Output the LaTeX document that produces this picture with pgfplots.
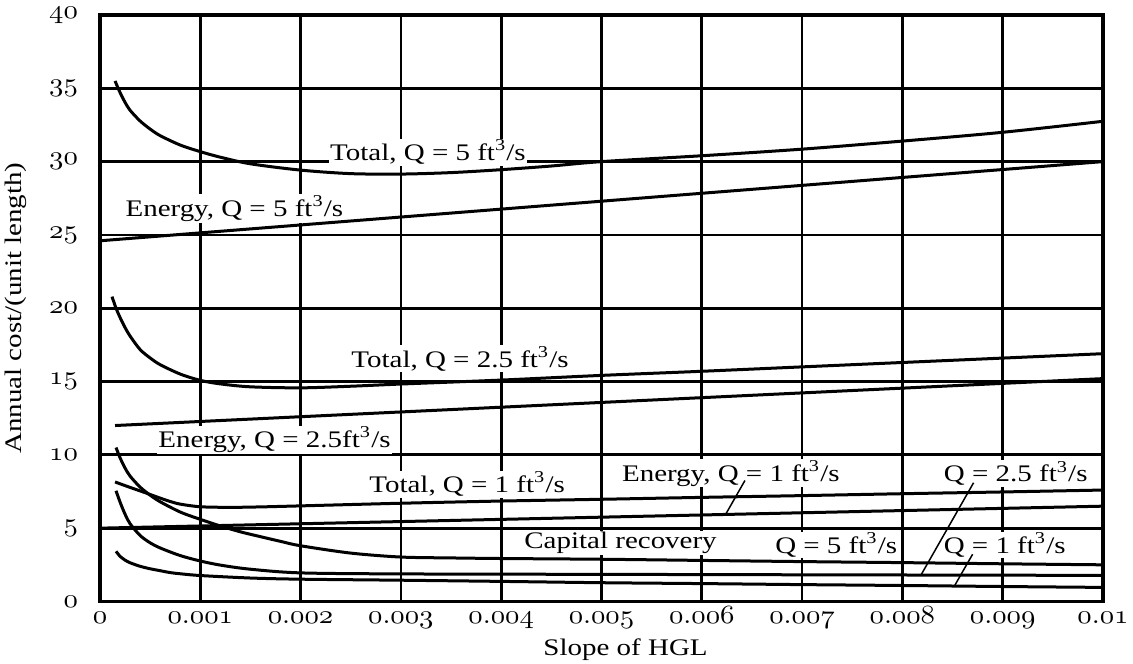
\documentclass[border=0pt]{standalone}
\usepackage{fontspec}
\setmainfont[FakeStretch=1.22]{Liberation Serif}
\usepackage{graphicx}
\usepackage{pgfplots}
\pgfplotsset{compat=1.18}
\newcommand{\os}[1]{\scalebox{1.15}[1.05]{$\mathnormal{#1}$}}
\newcommand{\ann}{\fontsize{9.5}{11}\selectfont}
\begin{document}
\begin{tikzpicture}
\begin{axis}[
  scale only axis, width=401.2pt, height=234.6pt,
  xmin=0, xmax=0.01, ymin=0, ymax=40,
  scaled x ticks=false,
  xtick={0,0.001,0.002,0.003,0.004,0.005,0.006,0.007,0.008,0.009,0.01},
  xticklabels={\os{0},\os{0.001},\os{0.002},\os{0.003},\os{0.004},\os{0.005},\os{0.006},\os{0.007},\os{0.008},\os{0.009},\os{0.01}},
  ytick={0,5,10,15,20,25,30,35,40},
  yticklabels={\os{0},\os{5},\os{10},\os{15},\os{20},\os{25},\os{30},\os{35},\os{40}},
  grid=major,
  major grid style={black, line width=1.1pt},
  axis line style={black, line width=1.4pt},
  major tick length=0pt,
  tick label style={font=\fontsize{10}{12}\selectfont},
  xticklabel style={anchor=base, yshift=-9pt},
  yticklabel style={anchor=east, xshift=-5.3pt},
  xlabel={Slope of HGL},
  ylabel={Annual cost/(unit length)},
  every axis x label/.style={at={(axis description cs:0.524,0)}, anchor=base, yshift=-21.5pt, font=\ann},
  every axis y label/.style={at={(axis description cs:-0.0837,0.5)}, rotate=90, anchor=center, font=\ann},
  clip=false,
]
% labels (white boxes)
\node[fill=white, inner sep=0.5pt, font=\ann] at (axis cs:0.00327,30.65) {Total, Q = 5 ft\textsuperscript{3}/s};
\node[fill=white, inner sep=0.5pt, font=\ann] at (axis cs:0.00134,26.8) {Energy, Q = 5 ft\textsuperscript{3}/s};
\node[fill=white, inner sep=0.5pt, font=\ann] at (axis cs:0.00359,16.55) {Total, Q = 2.5 ft\textsuperscript{3}/s};
\node[fill=white, inner sep=0.5pt, font=\ann] at (axis cs:0.00174,11.04) {Energy, Q = 2.5ft\textsuperscript{3}/s};
\node[fill=white, inner sep=0.5pt, font=\ann] at (axis cs:0.00366,8.0) {Total, Q = 1 ft\textsuperscript{3}/s};
\node[fill=white, inner sep=0.5pt, font=\ann] at (axis cs:0.00629,8.74) {Energy, Q = 1 ft\textsuperscript{3}/s};
\node[fill=white, inner sep=0.5pt, font=\ann] at (axis cs:0.00913,8.74) {Q = 2.5 ft\textsuperscript{3}/s};
\node[fill=white, inner sep=0.5pt, font=\ann] at (axis cs:0.00519,3.98) {Capital recovery};
\node[fill=white, inner sep=0.5pt, font=\ann] at (axis cs:0.00734,3.85) {Q = 5 ft\textsuperscript{3}/s};
\node[fill=white, inner sep=0.5pt, font=\ann] at (axis cs:0.00902,3.85) {Q = 1 ft\textsuperscript{3}/s};

% Total Q = 5
\addplot[black, line width=1.2pt, smooth] coordinates {
 (0.00015,35.5) (0.0002,34.71) (0.00025,34.04) (0.0003,33.5) (0.0004,32.77)
 (0.0005,32.22) (0.0006,31.77) (0.0008,31.13) (0.001,30.68) (0.0012,30.3)
 (0.0015,29.85) (0.002,29.42) (0.0025,29.18) (0.003,29.15) (0.0035,29.25)
 (0.004,29.45) (0.0045,29.7) (0.005,30.0) (0.006,30.4) (0.007,30.85)
 (0.008,31.4) (0.009,32.0) (0.01,32.75)};
% Energy Q = 5
\addplot[black, line width=1.2pt] coordinates {(0,24.6) (0.01,30.0)};
% Total Q = 2.5
\addplot[black, line width=1.2pt, smooth] coordinates {
 (0.00012,20.79) (0.00016,20.0) (0.0002,19.37) (0.00025,18.68) (0.0003,18.1)
 (0.0004,17.18) (0.0005,16.61) (0.0006,16.15) (0.0008,15.51) (0.001,15.08)
 (0.0012,14.84) (0.0015,14.64) (0.002,14.57) (0.0025,14.68) (0.003,14.83)
 (0.004,15.1) (0.005,15.42) (0.006,15.7) (0.007,16.0) (0.008,16.3)
 (0.009,16.6) (0.01,16.9)};
% Energy Q = 2.5
\addplot[black, line width=1.2pt] coordinates {(0.00015,12.0) (0.01,15.2)};
% Total Q = 1
\addplot[black, line width=1.2pt, smooth] coordinates {
 (0.00015,8.15) (0.0003,7.78) (0.00045,7.42) (0.0006,7.05) (0.0007,6.82)
 (0.0008,6.64) (0.001,6.46) (0.0013,6.42) (0.0016,6.45) (0.002,6.52)
 (0.003,6.7) (0.004,6.85) (0.005,6.97) (0.006,7.1) (0.007,7.22)
 (0.008,7.35) (0.009,7.47) (0.01,7.6)};
% Energy Q = 1
\addplot[black, line width=1.2pt] coordinates {(0,5.0) (0.01,6.5)};
% Capital recovery Q = 5
\addplot[black, line width=1.2pt, smooth] coordinates {
 (0.00016,10.5) (0.0002,9.8) (0.00025,9.1) (0.0003,8.55) (0.0004,7.8)
 (0.0005,7.25) (0.0006,6.8) (0.0008,6.1) (0.001,5.6) (0.0012,5.15)
 (0.0014,4.75) (0.0016,4.42) (0.0018,4.1) (0.002,3.8) (0.0025,3.3)
 (0.003,3.03) (0.0035,2.97) (0.004,2.93) (0.005,2.88) (0.006,2.8)
 (0.007,2.72) (0.008,2.65) (0.009,2.57) (0.01,2.5)};
% Capital recovery Q = 2.5
\addplot[black, line width=1.2pt, smooth] coordinates {
 (0.00016,7.55) (0.0002,6.78) (0.00025,5.95) (0.0003,5.3) (0.0004,4.5)
 (0.0005,4.0) (0.0006,3.65) (0.0008,3.13) (0.001,2.76) (0.0012,2.48)
 (0.0015,2.2) (0.002,1.95) (0.003,1.88) (0.005,1.85) (0.007,1.82)
 (0.01,1.78)};
% Capital recovery Q = 1
\addplot[black, line width=1.2pt, smooth] coordinates {
 (0.00016,3.42) (0.0002,3.08) (0.00025,2.82) (0.0003,2.64) (0.0004,2.4)
 (0.0005,2.23) (0.0006,2.1) (0.0007,1.97) (0.0008,1.89) (0.001,1.77)
 (0.0015,1.6) (0.002,1.52) (0.003,1.45) (0.004,1.37) (0.005,1.28)
 (0.006,1.22) (0.007,1.15) (0.008,1.09) (0.009,1.02) (0.01,0.96)};

% leader lines
\draw[black, line width=0.6pt] (axis cs:0.00643,8.25) -- (axis cs:0.00624,5.97);
\draw[black, line width=0.6pt] (axis cs:0.00871,8.1) -- (axis cs:0.00819,1.86);
\draw[black, line width=0.6pt] (axis cs:0.0087,3.22) -- (axis cs:0.00852,1.07);
\end{axis}
\pgfresetboundingbox
\path[use as bounding box] ([shift={(-40pt,-25pt)}]current axis.south west) rectangle ([shift={(12pt,6pt)}]current axis.north east);
\end{tikzpicture}
\end{document}
